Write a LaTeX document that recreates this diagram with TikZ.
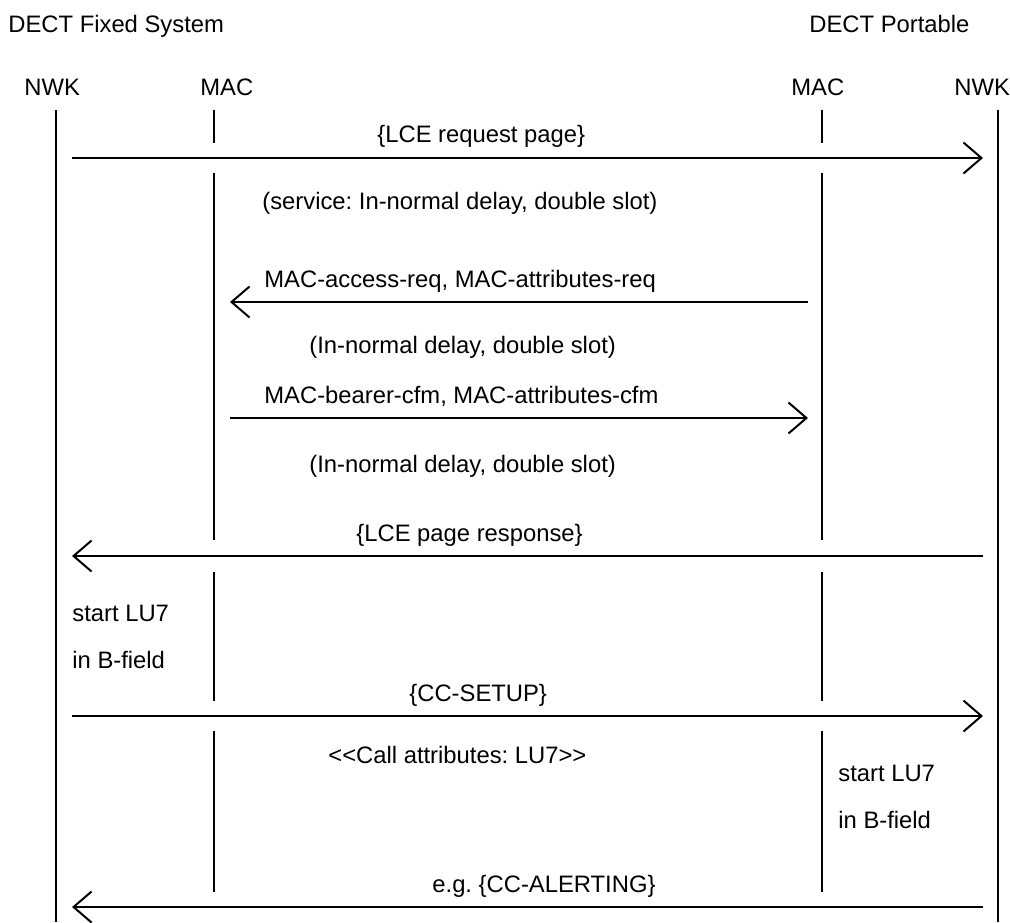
\documentclass[tikz,border=0pt]{standalone}
\usepackage{fontspec}
\setmainfont{Liberation Sans}
\usetikzlibrary{arrows.meta}
\frenchspacing

\begin{document}
\begin{tikzpicture}[x=0.5pt,y=-0.5pt, font=\fontsize{11.9}{14}\selectfont,
    life/.style={line width=1pt},
    msg/.style={line width=1pt, -{Straight Barb[length=9pt,width=15.5pt,line width=1pt]}},
    lbl/.style={anchor=base west, inner sep=0pt}]
  \useasboundingbox (0,0) rectangle (1010,922);
  % headings
  \node[lbl] (fixed) at (8,32) {DECT Fixed System};
  \node[lbl] (portable) at (809,32) {DECT Portable};
  \node[lbl] (nwkF) at (24,95) {NWK};
  \node[lbl] (macF) at (200,95) {MAC};
  \node[lbl] (macP) at (791,95) {MAC};
  \node[lbl] (nwkP) at (954,95) {NWK};
  % life lines
  \draw[life] (56,110) -- (56,922);
  \draw[life] (998,110) -- (998,922);
  \foreach \a/\b in {110/143,173/540,572/701,731/892} {
    \draw[life] (214,\a) -- (214,\b);
    \draw[life] (822,\a) -- (822,\b);
  }
  % messages
  \coordinate (nF) at (72,0);
  \coordinate (nP) at (983,0);
  \coordinate (mF) at (230,0);
  \coordinate (mP) at (808,0);
  \draw[msg] (nF |- 0,158) -- (nP |- 0,158);
  \node[lbl] (req) at (377,142) {\{LCE request page\}};
  \node[lbl] (srv) at (262,209) {(service: In-normal delay, double slot)};
  \draw[msg] (mP |- 0,302) -- (mF |- 0,302);
  \node[lbl] (acc) at (264,287) {MAC-access-req, MAC-attributes-req};
  \node[lbl] (del1) at (309,353) {(In-normal delay, double slot)};
  \draw[msg] (mF |- 0,418) -- (mP |- 0,418);
  \node[lbl] (cfm) at (264,403) {MAC-bearer-cfm, MAC-attributes-cfm};
  \node[lbl] (del2) at (309,472) {(In-normal delay, double slot)};
  \draw[msg] (nP |- 0,556) -- (nF |- 0,556);
  \node[lbl] (resp) at (356,541) {\{LCE page response\}};
  \node[lbl] (luF1) at (72,621) {start LU7};
  \node[lbl] (luF2) at (72,668) {in B-field};
  \draw[msg] (nF |- 0,716) -- (nP |- 0,716);
  \node[lbl] (setup) at (409,701) {\{CC-SETUP\}};
  \node[lbl] (attr) at (328,763) {<{}<Call attributes: LU7>{}>};
  \node[lbl] (luP1) at (838,781) {start LU7};
  \node[lbl] (luP2) at (838,828) {in B-field};
  \draw[msg] (nP |- 0,907) -- (nF |- 0,907);
  \node[lbl] (alert) at (432,892) {e.g. \{CC-ALERTING\}};
\end{tikzpicture}
\end{document}
